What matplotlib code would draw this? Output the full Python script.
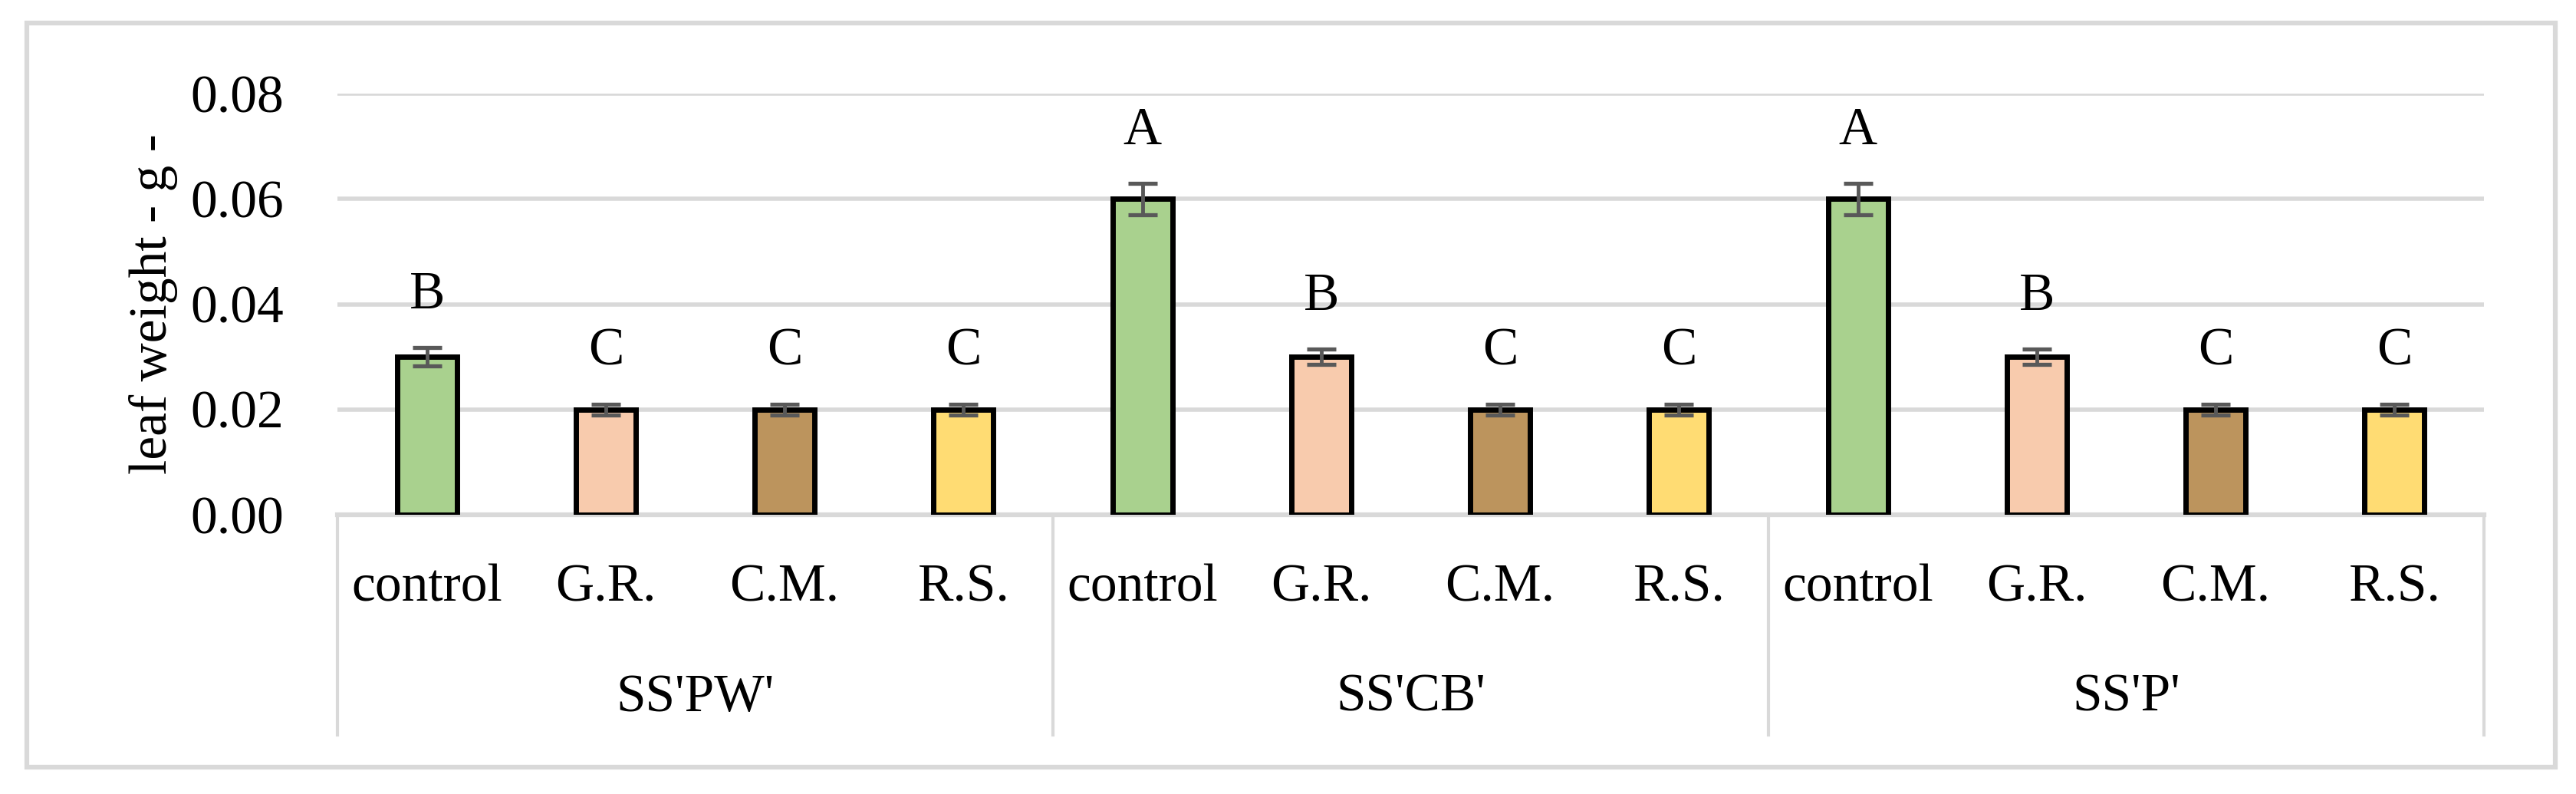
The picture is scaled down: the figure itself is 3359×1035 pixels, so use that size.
"""Leaf weight per treatment, grouped by rootstock (Excel-style two-level axis)."""

import matplotlib
matplotlib.use("Agg")
import matplotlib.pyplot as plt
from matplotlib.patches import Rectangle
import numpy as np

groups     = ["SS'PW'", "SS'CB'", "SS'P'"]
treatments = ["control", "G.R.", "C.M.", "R.S."]
values     = [0.030, 0.020, 0.020, 0.020,
              0.060, 0.030, 0.020, 0.020,
              0.060, 0.030, 0.020, 0.020]
errors     = [0.0017, 0.0010, 0.0010, 0.0010,
              0.0030, 0.0015, 0.0010, 0.0010,
              0.0030, 0.0015, 0.0010, 0.0010]
letters    = ["B", "C", "C", "C",
              "A", "B", "C", "C",
              "A", "B", "C", "C"]
colors     = ["#A9D18E", "#F8CBAD", "#BC945D", "#FFDC73"]
yticks     = [0.00, 0.02, 0.04, 0.06, 0.08]

GRID = "#D9D9D9"
FONT = ["Liberation Serif", "DejaVu Serif"]
FS   = 50

plt.rcParams["font.family"] = FONT

W, H = 3359, 1035
fig = plt.figure(figsize=(W / 100, H / 100), dpi=100)
# plot area in pixel terms: x 440..3239, y 122..671 (from top)
ax = fig.add_axes([440 / W, 1 - 671 / H, (3239 - 440) / W, (671 - 122) / H])

n = len(values)
x = np.arange(n)
bar_colors = [colors[i % 4] for i in range(n)]

ax.bar(x, values, width=0.335, color=bar_colors, edgecolor="black",
       linewidth=5, zorder=3)
ax.errorbar(x, values, yerr=errors, fmt="none", ecolor="#595959",
            elinewidth=3.5, capsize=14, capthick=3.8, zorder=4)

for xi, v, e, lab in zip(x, values, errors, letters):
    ax.annotate(lab, (xi, v + e), xytext=(0, 26), textcoords="offset points",
                ha="center", va="bottom", fontsize=FS)

ax.set_xlim(-0.5, n - 0.5)
ax.set_ylim(0, 0.08)
ax.set_yticks(yticks)
ax.set_yticklabels([f"{t:.2f}" for t in yticks], fontsize=FS)
ax.tick_params(axis="y", length=0, pad=50)
ax.tick_params(axis="x", length=0, labelbottom=False)
ax.yaxis.grid(True, color=GRID, linewidth=4, zorder=0)
ax.set_axisbelow(True)
for s in ax.spines.values():
    s.set_visible(False)

ax.set_ylabel("leaf weight - g -", fontsize=FS)
ax.yaxis.set_label_coords(-(440 - 232) / (3239 - 440), 0.5)

# two-level category axis below the plot
trans = ax.get_xaxis_transform()
ax.plot([-0.5, n - 0.5], [0, 0], color=GRID, lw=4.5, transform=trans,
        clip_on=False, zorder=2)
box_bottom = -(958 - 671) / (671 - 122)
for b in [-0.5, 3.5, 7.5, 11.5]:
    ax.plot([b, b], [0, box_bottom], color=GRID, lw=3, transform=trans,
            clip_on=False)
lab_y = -(767 - 671) / (671 - 122)
grp_y = -(910 - 671) / (671 - 122)
for i in range(n):
    ax.text(i, lab_y, treatments[i % 4], transform=trans, ha="center",
            va="center", fontsize=FS)
for g, name in enumerate(groups):
    ax.text(4 * g + 1.5, grp_y, name, transform=trans, ha="center",
            va="center", fontsize=FS)

# chart area border
fig.patches.append(Rectangle((35 / W, 1 - 1000 / H), (3332 - 35) / W,
                             (1000 - 30) / H, transform=fig.transFigure,
                             fill=False, edgecolor=GRID, linewidth=4.5))

fig.savefig("out.png", dpi=100)
